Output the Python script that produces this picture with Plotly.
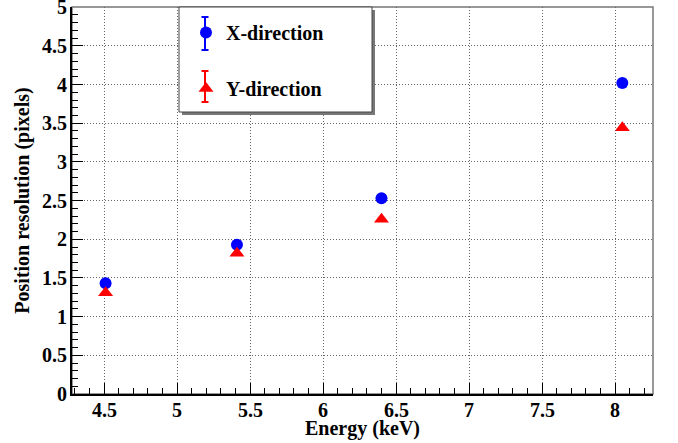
import plotly.graph_objects as go

energy = [4.51, 5.41, 6.40, 8.05]
res_x = [1.43, 1.93, 2.53, 4.02]
res_y = [1.31, 1.82, 2.26, 3.44]
names = ["X-direction", "Y-direction"]
x_tick_vals = [4.5, 5.0, 5.5, 6.0, 6.5, 7.0, 7.5, 8.0]
x_tick_text = ["4.5", "5", "5.5", "6", "6.5", "7", "7.5", "8"]
y_tick_vals = [0, 0.5, 1, 1.5, 2, 2.5, 3, 3.5, 4, 4.5, 5]
y_tick_text = ["0", "0.5", "1", "1.5", "2", "2.5", "3", "3.5", "4", "4.5", "5"]

FONT = "Liberation Serif"
W, H = 678, 443
L, R, T, B = 72, 25, 7, 49
PW, PH = W - L - R, H - T - B


def px(x):
    return (x - L) / PW


def py(y):
    return (H - B - y) / PH


fig = go.Figure()
fig.add_trace(go.Scatter(x=energy, y=res_x, mode="markers", name="<b>" + names[0] + "</b>",
                         legendgroup="a",
                         marker=dict(symbol="circle", size=12, color="#0000ff")))
fig.add_trace(go.Scatter(x=energy, y=res_y, mode="markers", name="<b>" + names[1] + "</b>",
                         legendgroup="b",
                         marker=dict(symbol="triangle-up", size=13, color="#ff0000")))

axis_common = dict(
    showgrid=True, gridcolor="#666666", griddash="1px,2px", gridwidth=1,
    showline=True, linecolor="black", linewidth=1.5,
    ticks="inside", ticklen=11, tickcolor="black", tickwidth=1,
    zeroline=False, automargin=False, showticklabels=False,
)

fig.update_xaxes(range=[4.28, 8.26], tickvals=x_tick_vals,
                 minor=dict(dtick=0.1, tick0=4.5, ticks="inside", ticklen=6, tickcolor="black", showgrid=False),
                 title=dict(text="<b>Energy (keV)</b>", standoff=26,
                            font=dict(family=FONT, size=20, color="black")),
                 **axis_common)
fig.update_yaxes(range=[0, 5.002], tickvals=y_tick_vals,
                 minor=dict(dtick=0.1, tick0=0, ticks="inside", ticklen=6, tickcolor="black", showgrid=False),
                 title=dict(text="<b>Position resolution (pixels)</b>", standoff=35,
                            font=dict(family=FONT, size=20, color="black")),
                 **axis_common)

# tick labels
for v, t in zip(x_tick_vals, x_tick_text):
    fig.add_annotation(x=v, xref="x", y=0, yref="paper", yanchor="top", xanchor="center",
                       yshift=-3, text="<b>" + t + "</b>", showarrow=False,
                       font=dict(family=FONT, size=20, color="black"))
for v, t in zip(y_tick_vals, y_tick_text):
    fig.add_annotation(x=0, xref="paper", y=v, yref="y", xanchor="right", yanchor="middle",
                       xshift=-3, text="<b>" + t + "</b>", showarrow=False,
                       font=dict(family=FONT, size=20, color="black"))

# frame and legend box with shadow
fig.add_shape(type="rect", xref="paper", yref="paper", x0=0, x1=1, y0=0, y1=1,
              line=dict(color="#777777", width=1.5), layer="below")
fig.add_shape(type="rect", xref="paper", yref="paper",
              x0=px(182), x1=px(375), y0=py(115), y1=py(10),
              line=dict(width=0), fillcolor="#777777", layer="above")
fig.add_shape(type="rect", xref="paper", yref="paper",
              x0=px(179), x1=px(372), y0=py(112), y1=py(7),
              line=dict(color="#444444", width=1), fillcolor="white", layer="above")
# legend error-bar glyphs
for (yt, yb, col) in [(17, 50, "#0000ff"), (71, 102, "#ff0000")]:
    fig.add_shape(type="line", xref="paper", yref="paper", x0=px(205), x1=px(205),
                  y0=py(yb), y1=py(yt), line=dict(color=col, width=2), layer="above")
    for yy in (yt, yb):
        fig.add_shape(type="line", xref="paper", yref="paper", x0=px(201.5), x1=px(208.5),
                      y0=py(yy), y1=py(yy), line=dict(color=col, width=2), layer="above")

fig.update_layout(
    width=W, height=H,
    margin=dict(l=L, r=R, t=T, b=B, autoexpand=False),
    paper_bgcolor="white", plot_bgcolor="white",
    font=dict(family=FONT, color="black"),
    showlegend=True,
    legend=dict(x=px(186), y=py(13), xanchor="left", yanchor="top",
                bgcolor="rgba(0,0,0,0)", borderwidth=0,
                tracegroupgap=27, traceorder="grouped",
                font=dict(family=FONT, size=20, color="black")),
)

fig.write_html("out.html")
